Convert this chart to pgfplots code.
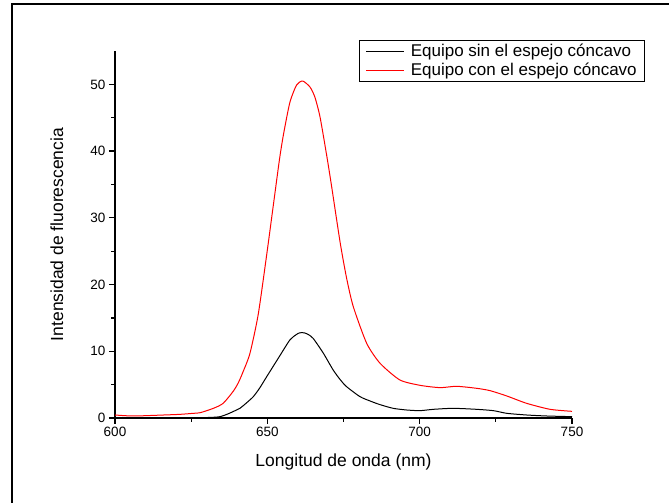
\documentclass[border=0pt]{standalone}
\usepackage{fontspec}
\setmainfont{Liberation Sans}
\setsansfont{Liberation Sans}
\usepackage{pgfplots}
\pgfplotsset{compat=1.18}

\begin{document}
\begin{tikzpicture}[x=1pt,y=1pt]
\useasboundingbox (0,0) rectangle (669,503);
\clip (0,0) rectangle (669,503);
% frame cut at right and bottom as in the source
\draw[line width=2pt] (11.5,-20) -- (11.5,499) -- (700,499);
\begin{axis}[
  at={(115pt,85pt)}, anchor=south west,
  width=457pt, height=367pt, scale only axis,
  xmin=600, xmax=750, ymin=0, ymax=55,
  xtick={600,650,700,750}, ytick={0,10,20,30,40,50},
  minor x tick num=1, minor y tick num=1,
  axis x line*=bottom, axis y line*=left,
  axis line style={line width=1.5pt,-},
  tick align=outside,
  major tick length=6pt, minor tick length=4pt,
  every tick/.style={black,line width=1.2pt},
  /pgf/number format/assume math mode=true,
  ticklabel style={font=\fontsize{13.5}{15}\selectfont},
  xlabel={Longitud de onda (nm)},
  ylabel={Intensidad de fluorescencia},
  label style={font=\fontsize{17.5}{20}\selectfont},
  xlabel style={at={(axis description cs:0.5,-0.12)},anchor=center},
  ylabel style={at={(axis description cs:-0.127,0.5)},anchor=center},
  legend style={at={(axis description cs:1.16,1.03)},anchor=north east,
    font=\fontsize{17}{20}\selectfont, draw=black, line width=0.8pt,
    inner xsep=6pt, inner ysep=2pt, row sep=1pt,
    legend cell align=left,
    /tikz/every odd column/.append style={column sep=4pt}},
  legend image code/.code={\draw[#1,line width=1pt] (0pt,0pt) -- (38pt,0pt);},
  clip=false,
]
\addplot[black,line width=1pt,smooth,tension=0.4] coordinates {
(600,0.02)(610,0.02)(620,0.03)(628,0.05)(632,0.1)(634.5,0.2)(637,0.6)
(639.9,1.2)(641,1.45)(643,2.2)(645.4,3.2)(647.5,4.5)(649.8,6.2)(652,7.8)
(654.2,9.4)(657.4,11.7)(659.5,12.5)(660.5,12.75)(661.3,12.8)(662.2,12.75)
(663.5,12.5)(665.1,11.9)(668.4,9.7)(671.6,7.2)(674,5.7)(676,4.7)(680.4,3.2)
(684,2.5)(687,2.0)(691.3,1.45)(695.7,1.2)(700.1,1.1)(704.5,1.3)(711,1.45)
(718.7,1.3)(724.2,1.1)(728.6,0.7)(735.1,0.45)(741.7,0.3)(750,0.2)};
\addlegendentry{Equipo sin el espejo cóncavo}
\addplot[red,line width=1pt,smooth,tension=0.4] coordinates {
(600,0.45)(606,0.3)(616,0.45)(621.4,0.55)(625.7,0.7)(628,0.8)(632.3,1.45)
(635.5,2.2)(638.8,4.0)(640.5,5.3)(642.1,7.0)(644.3,9.7)(647,15.5)
(649.8,24.5)(652,32.0)(654,38.8)(655.3,42.5)(657.4,47.3)(659.6,49.9)
(661.6,50.5)(664,49.6)(665.6,48.1)(667.3,45.1)(669.5,39.3)(671,35.0)
(673.9,26.3)(676,21.0)(678.2,16.7)(682.6,11.2)(687,8.2)(693.5,5.7)(700.1,4.9)
(706.7,4.55)(712.1,4.75)(718.7,4.45)(723.1,4.1)(728.6,3.3)(735.1,2.2)
(742.8,1.3)(750,1.0)};
\addlegendentry{Equipo con el espejo cóncavo}
\end{axis}
\end{tikzpicture}
\end{document}
